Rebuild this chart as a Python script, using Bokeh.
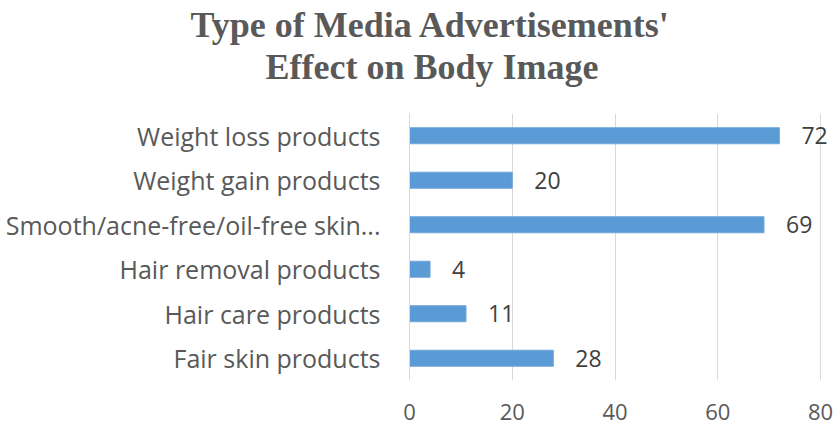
from bokeh.plotting import figure
from bokeh.models import FactorRange, Range1d, ColumnDataSource, FixedTicker, Title
from bokeh.core.properties import value
from bokeh.embed import file_html
from bokeh.resources import INLINE

title_lines = ["Type of Media Advertisements'", "Effect on Body Image"]
categories = [
    "Weight loss products",
    "Weight gain products",
    "Smooth/acne-free/oil-free skin...",
    "Hair removal products",
    "Hair care products",
    "Fair skin products",
]
counts = [72, 20, 69, 4, 11, 28]
x_ticks = [0, 20, 40, 60, 80]

LABEL_FONT = "Open Sans"
LABEL_COLOR = "#595959"
PX_PER_UNIT = 411 / 80.0

src = ColumnDataSource(dict(
    cat=categories,
    val=counts,
    lbl=[str(v) for v in counts],
))

p = figure(
    width=835, height=424,
    y_range=FactorRange(factors=list(reversed(categories))),
    x_range=Range1d(0, 80 + 13 / PX_PER_UNIT),   # room on the right for the value labels
    output_backend="svg", toolbar_location=None,
    min_border_left=409, min_border_right=2,
    min_border_top=113, min_border_bottom=44,
)
p.outline_line_color = None

p.hbar(y="cat", left=0, right="val", height=0.36, source=src,
       fill_color="#5B9BD5", line_color="#6FA7DB", line_width=1)

p.text(x="val", y="cat", text="lbl", source=src, x_offset=22,
       text_baseline="middle", text_align="left",
       text_font=value(LABEL_FONT), text_font_size="23px", text_color="#404040")

p.xaxis.ticker = FixedTicker(ticks=x_ticks)
p.xaxis.axis_line_color = None
p.xaxis.major_tick_line_color = None
p.xaxis.minor_tick_line_color = None
p.xaxis.major_tick_out = 0
p.xaxis.major_tick_in = 0
p.xaxis.major_label_text_font = LABEL_FONT
p.xaxis.major_label_text_font_size = "22px"
p.xaxis.major_label_text_color = LABEL_COLOR
p.xaxis.major_label_standoff = 23

p.yaxis.axis_line_color = "#d9d9d9"
p.yaxis.major_tick_line_color = None
p.yaxis.minor_tick_line_color = None
p.yaxis.major_tick_out = 0
p.yaxis.major_tick_in = 0
p.yaxis.major_label_text_font = LABEL_FONT
p.yaxis.major_label_text_font_size = "25px"
p.yaxis.major_label_text_color = LABEL_COLOR
p.yaxis.major_label_standoff = 29

p.xgrid.grid_line_color = "#d9d9d9"
p.ygrid.grid_line_color = None

# spacer between the title block and the plot area
p.add_layout(Title(text=" ", text_font="Liberation Serif",
                   text_font_size="10px", standoff=14), "above")
# two-line title, bottom line first so the first line sits on top
for line, off in [(title_lines[1], -144), (title_lines[0], -219)]:
    p.add_layout(Title(text=line, align="left", offset=off,
                       text_font="Liberation Serif", text_font_style="bold",
                       text_font_size="36px", text_color="#595959",
                       standoff=0), "above")

open("out.html", "w").write(file_html(p, INLINE))
